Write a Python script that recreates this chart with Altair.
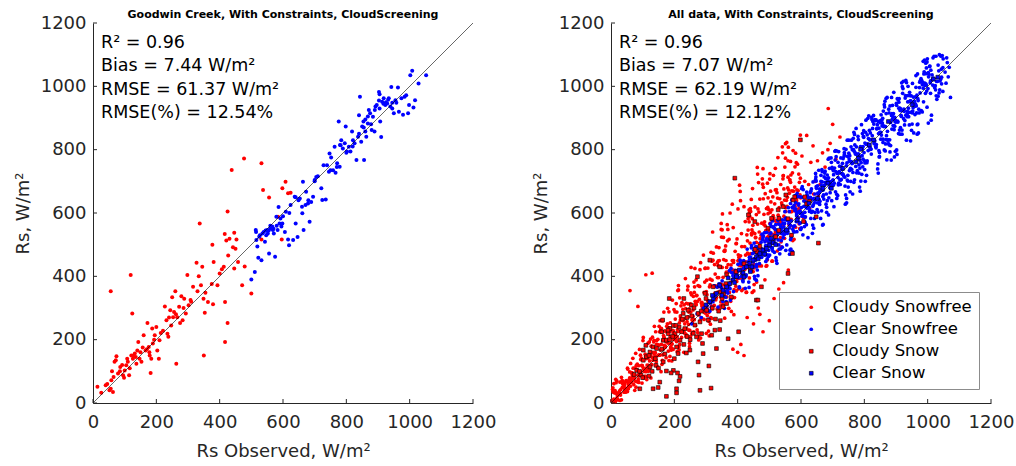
import altair as alt
import pandas as pd

# ---------------------------------------------------------------- data
# Goodwin Creek: (observed, modelled) Rs in W/m^2
GC_CLOUDY = [(14,51),(26,32),(40,56),(56,45),(58,72),(63,35),(65,82),(56,353),(68,130),(72,135),(74,148),(79,93),
    (86,114),(95,88),(100,103),(105,119),(110,130),(114,88),(119,404),(121,150),(124,283),(126,140),(132,156),(137,124),
    (140,166),(143,193),(147,140),(153,130),(160,214),(166,166),(172,253),(176,177),(179,150),(182,95),(184,140),(187,235),
    (189,188),(195,214),(200,240),(203,166),(208,140),(210,198),(214,221),(221,228),(227,305),(232,261),(235,219),(238,209),
    (244,293),(247,245),(250,334),(253,271),(256,287),(260,353),(263,124),(266,271),(272,304),(275,253),(279,337),(283,261),
    (288,329),(293,283),(298,404),(302,309),(308,325),(316,367),(327,443),(330,353),(334,400),(337,567),(341,372),(345,430),
    (349,329),(353,285),(355,348),(350,150),(363,319),(375,376),(377,500),(379,312),(381,445),(393,372),(400,409),(407,422),
    (413,430),(416,534),(417,319),(417,193),(421,513),(425,605),(425,253),(427,466),(431,519),(438,736),(442,492),(446,538),
    (446,425),(450,487),(453,516),(458,445),(471,372),(477,772),(479,431),(500,346),(532,757),(532,516),(537,673),(556,649),
    (584,588),(598,678),(608,699),(616,662),(624,664),(596,516),(45,60),(52,40),(60,100),(85,100),(92,120),(98,80),
    (108,140),(116,110),(128,150),(135,145),(150,160),(157,175),(170,170),(178,160),(193,200),(240,270),(262,280),(286,300),
    (310,320)]

GC_CLEAR = [(500,390),(511,414),(514,546),(516,515),(519,494),(522,459),(527,530),(532,451),(535,535),(539,540),
    (543,509),(547,530),(550,546),(552,535),(556,472),(560,551),(566,557),(568,546),(571,535),(575,462),(579,588),(583,546),
    (586,619),(589,567),(592,583),(595,557),(598,567),(606,540),(609,604),(616,516),(619,498),(624,625),(632,515),(637,651),
    (640,567),(646,524),(649,640),(653,646),(661,599),(663,699),(665,546),(671,625),(673,667),(679,630),(684,572),(689,635),
    (695,651),(700,704),(705,714),(710,716),(721,678),(724,641),(728,751),(735,643),(739,751),(745,730),(747,788),(752,775),
    (758,735),(763,809),(766,727),(771,757),(776,889),(779,746),(782,814),(784,830),(789,804),(795,820),(798,873),(802,794),
    (808,809),(813,794),(818,857),(821,830),(826,820),(832,767),(837,841),(840,909),(843,967),(847,825),(850,873),(854,889),
    (856,767),(860,857),(863,841),(868,883),(871,925),(875,915),(880,862),(884,904),(889,857),(892,936),(896,941),(903,982),
    (905,930),(907,889),(910,840),(913,951),(918,962),(923,941),(929,946),(934,962),(939,936),(942,998),(945,930),(950,915),
    (955,956),(963,996),(966,920),(974,962),(979,910),(984,967),(989,972),(995,915),(998,941),(1002,1035),(1008,1049),
    (1012,933),(1017,956),(1028,1009),(1052,1035),(903,955),(917,945),(925,950),(932,958),(945,948),(958,948),(905,975),
    (890,925),(868,905),(878,880),(855,870),(860,895),(840,850),(820,810),(800,790),(780,815),(770,745),(750,735),(700,700),
    (680,640),(660,620),(640,650),(620,600),(600,590),(580,560),(570,550),(545,545),(525,525),(515,540),(555,545),(560,560)]

# All stations
ALL_CLOUDY_SNOWFREE = [
    (3,8),(41,34),(17,31),(29,30),(8,34),(46,34),(22,31),(35,71),(12,9),(49,68),(28,8),(26,33),(38,69),(14,5),(44,46),
    (6,48),(31,43),(19,15),(48,71),(10,4),(24,30),(37,66),(5,4),(43,60),(16,64),(33,10),(27,38),(9,12),(40,61),(21,10),
    (5,43),(47,47),(13,39),(30,25),(36,50),(18,70),
    (53,107),(91,87),(67,95),(79,50),(58,69),(96,142),(72,58),(85,88),(62,125),(99,117),(51,45),(76,111),(88,65),(64,73),
    (94,137),(56,54),(81,106),(69,141),(98,63),(60,76),(74,79),(87,118),(52,36),(93,151),(66,66),(83,123),(77,69),(59,79),
    (90,169),(71,78),(55,45),(97,119),(63,64),(80,119),(86,68),(68,82),
    (103,107),(141,225),(117,142),(129,121),(108,154),(146,115),(122,133),(135,193),(112,110),(149,182),(101,197),(126,79),
    (138,159),(114,120),(144,185),(106,84),(131,208),(119,119),(148,201),(110,99),(124,151),(137,242),(102,111),(143,130),
    (116,145),(133,135),(127,179),(109,84),(140,159),(121,193),(105,100),(147,184),(113,74),(130,144),(136,198),(118,100),
    (153,225),(191,188),(167,208),(179,299),(158,99),(196,222),(172,180),(185,237),(162,135),(199,295),(151,151),(176,242),
    (188,174),(164,198),(194,325),(156,167),(181,164),(169,205),(198,200),(160,225),(174,143),(187,210),(152,242),(193,186),
    (166,213),(183,134),(177,195),(159,236),(190,167),(171,176),(155,260),(197,228),(163,152),(180,238),(186,147),(168,182),
    (203,265),(241,209),(217,332),(229,229),(208,287),(246,230),(222,263),(235,393),(212,226),(249,229),(201,244),(226,229),
    (238,315),(214,177),(244,272),(206,314),(231,223),(219,275),(248,189),(210,232),(224,317),(237,210),(202,208),(243,369),
    (216,253),(233,220),(227,296),(209,162),(240,257),(221,307),(205,201),(247,297),(213,357),(230,160),(236,268),(218,227),
    (253,428),(291,306),(267,245),(279,327),(258,261),(296,382),(272,231),(285,316),(262,382),(299,290),(251,313),(276,211),
    (288,312),(264,367),(294,264),(256,263),(281,421),(269,310),(298,284),(260,337),(274,222),(287,306),(252,348),(293,289),
    (266,321),(283,443),(277,199),(259,294),(290,300),(271,340),(255,219),(297,425),(263,263),(280,368),(286,268),(268,313),
    (303,342),(341,491),(317,306),(329,407),(308,227),(346,376),(322,451),(335,297),(312,321),(349,524),(301,352),(326,308),
    (338,434),(314,249),(344,368),(306,426),(331,326),(319,388),(348,548),(310,212),(324,368),(337,350),(302,388),(343,298),
    (316,476),(333,333),(327,437),(309,286),(340,396),(321,540),(305,324),(347,319),(313,373),(330,334),(336,444),(318,267),
    (353,311),(391,401),(367,563),(379,436),(358,338),(396,504),(372,299),(385,412),(362,496),(399,393),(351,428),(376,600),
    (388,279),(364,413),(394,408),(356,453),(381,331),(369,548),(398,398),(360,483),(374,349),(387,450),(352,597),(393,414),
    (366,335),(383,450),(377,381),(359,479),(390,333),(371,414),(355,523),(397,384),(363,450),(380,289),(386,420),(368,512),
    (403,451),(441,605),(417,431),(429,531),(408,668),(446,349),(422,494),(435,470),(412,535),(449,415),(401,613),(426,446),
    (438,590),(414,407),(444,531),(406,688),(431,473),(419,406),(448,540),(410,434),(424,573),(437,395),(402,468),(443,643),
    (416,422),(433,546),(427,349),(409,465),(440,614),(421,396),(405,435),(447,677),(413,494),(430,429),(436,572),(418,360),
    (453,488),(491,614),(467,433),(479,691),(458,478),(496,648),(472,465),(485,572),(462,744),(499,541),(451,438),(476,568),
    (488,512),(464,613),(494,452),(456,522),(481,681),(469,475),(498,611),(460,382),(474,530),(487,661),(452,427),(493,523),
    (466,696),(483,564),(477,476),(459,595),(490,432),(471,519),(455,619),(497,511),(463,565),(480,740),(486,389),(468,540),
    (503,602),(541,809),(517,577),(529,540),(508,610),(546,590),(522,674),(535,522),(512,592),(549,745),(501,529),(526,647),
    (538,493),(514,585),(544,718),(506,507),(531,580),(519,741),(548,641),(510,532),(524,664),(537,509),(502,567),(543,708),
    (516,551),(533,645),(527,775),(509,448),(540,626),(521,574),(505,635),(547,540),(513,719),(530,570),(536,690),(518,535),
    (553,540),(591,671),(567,763),(579,607),(558,679),(596,551),(572,643),(585,759),(562,563),(599,648),(551,773),(576,669),
    (588,610),(564,704),(594,566),(556,621),(581,746),(569,604),(598,710),(560,808),(574,513),(587,673),(552,605),(593,723),
    (566,559),(583,789),(577,617),(559,713),(590,607),(571,670),(555,823),(597,657),(563,574),(580,682),(586,630),(568,720),
    (603,780),(612,700),(618,845),(624,690),(631,760),(638,812),(645,700),(652,765),(660,690),(668,790),(676,745),(686,930),
    (692,820),(700,880),(640,660),(615,640),(655,655),(685,800),(710,770),(723,840),(608,585),(627,615),
    (60,355),(110,405),(130,410),(85,305),(15,75),(480,225),(500,260),(450,250),(430,270),(410,185),(400,160),(420,150),
    (465,300),(470,280),(385,170),(530,360),(545,380),(560,420),(515,330),
    (25,31),(7,36),(44,43),(15,32),(33,81),(4,6),(39,50),(20,23),(11,32),(48,37),(28,66),(6,6),(36,62),(17,12),(42,56),
    (9,61),
    (75,40),(57,73),(94,99),(65,96),(83,67),(52,110),(89,89),(70,110),(61,53),(98,118),(78,157),(54,61),(86,76),(67,89),
    (92,93),(59,98),
    (125,202),(107,107),(144,197),(115,104),(133,160),(102,207),(139,148),(120,107),(111,140),(148,150),(128,180),(104,79),
    (136,155),(117,189),(142,137),(109,146),
    (175,193),(157,234),(194,171),(165,170),(183,288),(152,183),(189,178),(170,228),(161,122),(198,212),(178,250),(154,151),
    (186,227),(167,287),(192,133),(159,185),(181,189),(173,225),(196,169),(163,259),(151,151),(187,253),(169,155),(195,229),
    (225,262),(207,194),(244,313),(215,168),(233,250),(202,288),(239,235),(220,270),(211,355),(248,178),(228,260),(204,213),
    (236,298),(217,185),(242,357),(209,209),(231,310),(223,207),(246,287),(213,371),(201,215),(237,217),(219,262),(245,248),
    (275,371),(257,253),(294,349),(265,425),(283,205),(252,287),(289,299),(270,339),(261,225),(298,426),(278,278),(254,342),
    (286,268),(267,312),(292,467),(259,274),(281,259),(273,321),(296,299),(263,349),(251,210),(287,318),(269,389),(295,286),
    (325,369),(307,320),(344,430),(315,270),(333,493),(302,302),(339,449),(320,297),(311,367),(348,567),(328,347),(304,276),
    (336,396),(317,321),(342,450),(309,258),(331,370),(323,473),(346,335),(313,391),(301,220),(337,367),(319,448),(345,307),
    (375,375),(357,480),(394,369),(365,428),(383,628),(352,373),(389,358),(370,437),(361,365),(398,518),(378,321),(354,397),
    (386,554),(367,354),(392,479),(359,268),(381,415),(373,517),(396,354),(363,373),(351,547),(387,444),(369,349),(395,503),
    (425,467),(407,394),(444,536),(415,439),(433,582),(402,360),(439,505),(420,620),(411,417),(448,561),(428,350),(404,460),
    (436,610),(417,392),(442,472),(409,639),(431,512),(423,422),(446,582),(413,355),(401,449),(437,601),(419,433),(445,547),
    (475,433),(457,523),(494,694),(465,471),(483,596),(452,374),(489,545),(470,644),(461,436),(498,528),(478,708),(454,535),
    (486,485),(467,603),(492,434),(459,507),(481,645),(473,487),(496,598),(463,723),(451,354),(487,559),(469,504),(495,618),
    (525,480),(507,578),(544,718),(515,516),(533,582),(502,724),(539,632),(520,542),(511,651),(548,520),(528,593),(504,669),
    (536,571),(517,629),(542,790),(509,448),(531,617),(523,576),(546,676),(513,506),(501,707),(537,577),(519,673),(545,562),
    (575,797),(557,650),(594,616),(565,705),(583,555),(552,617),(589,754),(570,605),(561,673),(598,846),(578,517),(554,640),
    (586,639),(567,697),(592,585),(559,765),(581,621),(573,727),(596,613),(563,662),(551,819),(587,647),(569,580),(595,697)]

ALL_CLEAR_SNOWFREE = [
    (255,250),(272,282),(285,270),(292,300),
    (303,307),(341,376),(317,302),(329,339),(308,264),(346,368),(322,320),(335,366),(312,290),(349,363),(301,291),(326,370),
    (338,303),(314,316),(344,370),(306,293),
    (353,321),(391,411),(367,356),(379,425),(358,299),(396,402),(372,366),(385,402),(362,334),(399,403),(351,386),(376,361),
    (388,398),(364,320),(394,416),(356,354),(381,412),(369,347),(398,412),(360,350),(374,418),(387,352),(352,354),(393,419),
    (366,353),(383,390),(377,325),
    (403,396),(441,461),(417,383),(429,434),(408,451),(446,427),(422,433),(435,382),(412,439),(449,446),(401,438),(426,400),
    (438,454),(414,403),(444,497),(406,364),(431,433),(419,450),(448,432),(410,418),(424,362),(437,460),(402,397),(443,490),
    (416,387),(433,446),(427,405),(409,443),(440,431),(421,425),(405,367),(447,472),(413,400),(430,486),(436,365),(418,425),
    (453,400),(491,518),(467,464),(479,516),(458,432),(496,512),(472,461),(485,538),(462,420),(499,501),(451,482),(476,460),
    (488,496),(464,402),(494,517),(456,451),(481,528),(469,440),(498,511),(460,438),(474,508),(487,478),(452,456),(493,455),
    (466,491),(483,470),(477,533),(459,388),(490,497),(471,464),(455,475),(497,463),(463,468),(480,523),(486,467),(468,479),
    (503,565),(541,492),(517,519),(529,565),(508,490),(546,556),(522,450),(535,562),(512,506),(549,604),(501,467),(526,541),
    (538,513),(514,554),(544,533),(506,510),(531,486),(519,548),(548,533),(510,575),(524,441),(537,545),(502,494),(543,567),
    (516,476),(533,539),(527,577),(509,487),(540,553),(521,459),(505,537),(547,543),(513,556),(530,499),(536,555),(518,505),
    (553,583),(591,585),(567,630),(579,540),(558,576),(596,567),(572,618),(585,573),(562,567),(599,548),(551,584),(576,558),
    (588,662),(564,470),(594,603),(556,546),(581,608),(569,523),(598,604),(560,617),(574,549),(587,602),(552,482),(593,629),
    (566,562),(583,633),(577,542),(559,581),(590,575),(571,641),(555,499),(597,599),(563,604),(580,559),(586,597),(568,486),
    (603,590),(641,646),(617,563),(629,664),(608,589),(646,725),(622,522),(635,644),(612,602),(649,678),(601,553),(626,633),
    (638,698),(614,588),(644,660),(606,531),(631,669),(619,615),(648,701),(610,573),(624,647),(637,621),(602,677),(643,583),
    (616,619),(633,676),(627,605),(609,621),(640,552),(621,653),(605,598),(647,714),(613,571),(630,649),(636,605),(618,666),
    (653,663),(691,680),(667,698),(679,628),(658,665),(696,760),(672,644),(685,702),(662,583),(699,740),(651,646),(676,732),
    (688,648),(664,688),(694,677),(656,735),(681,618),(669,672),(698,744),(660,637),(674,687),(687,594),(652,686),(693,686),
    (666,737),(683,639),(677,697),(659,627),(690,741),(671,657),(655,660),(697,639),(663,700),(680,660),(686,770),(668,562),
    (703,721),(741,657),(717,760),(729,724),(708,767),(746,704),(722,748),(735,717),(712,796),(749,682),(701,704),(726,774),
    (738,713),(714,727),(744,646),(706,742),(731,723),(719,794),(748,701),(710,731),(724,690),(737,791),(702,688),(743,749),
    (716,655),(733,772),(727,706),(709,797),(740,628),(721,731),(705,694),(747,779),(713,659),(730,738),(736,803),(718,689),
    (753,734),(791,879),(767,697),(779,782),(758,809),(796,770),(772,786),(785,682),(762,800),(799,791),(751,830),(776,727),
    (788,810),(764,728),(794,851),(756,741),(781,787),(769,705),(798,839),(760,738),(774,867),(787,669),(752,763),(793,781),
    (766,800),(783,726),(777,785),(759,830),(790,759),(771,790),(755,667),(797,842),(763,758),(780,842),(786,742),(768,795),
    (803,700),(841,879),(817,809),(829,908),(808,759),(846,868),(822,786),(835,892),(812,797),(849,855),(801,737),(826,867),
    (838,816),(814,907),(844,726),(806,817),(831,819),(819,853),(848,791),(810,818),(824,895),(837,806),(802,821),(843,755),
    (816,861),(833,828),(827,889),(809,765),(840,867),(821,802),(805,893),(847,777),(813,816),(830,881),(836,810),(818,832),
    (853,910),(891,876),(867,873),(879,815),(858,899),(896,874),(872,965),(885,767),(862,873),(899,887),(851,885),(876,819),
    (888,896),(864,935),(894,863),(856,875),(881,793),(869,914),(898,893),(860,922),(874,830),(887,914),(852,833),(893,981),
    (866,796),(883,886),(877,928),(859,833),(890,904),(871,768),(855,893),(897,889),(863,942),(880,831),(886,908),(868,832),
    (903,785),(941,952),(917,905),(929,963),(908,851),(946,954),(922,993),(935,904),(912,931),(949,861),(901,946),(926,921),
    (938,1000),(914,870),(944,971),(906,887),(931,1019),(919,849),(948,951),(910,961),(924,898),(937,951),(902,799),(943,981),
    (916,908),(933,1012),(927,878),(909,931),(940,904),(921,978),(905,890),(947,953),(913,849),(930,971),(936,914),(918,1011),
    (953,922),(991,1010),(967,879),(979,1024),(958,953),(996,1058),(972,928),(985,1012),(962,943),(999,1087),(951,881),
    (976,979),(988,1039),(964,938),(994,1008),(956,853),(981,1019),(969,961),(998,1077),(960,911),(974,996),(987,951),
    (952,1009),(993,978),(966,972),(983,919),(977,1018),(959,937),(990,1083),(971,853),(955,966),(997,985),(963,997),
    (980,923),(986,994),(968,1039),
    (1003,1030),(1041,1022),(1017,1090),(1029,959),(1008,1011),(1046,1097),(1022,996),(1035,1049),(1012,909),(1049,1087),
    (1001,993),(1026,1095),(1038,989),(1014,1036),(1044,1008),(1006,1063),(1031,1016),(1019,1025),(1048,984),(1010,1051),
    (1024,1002),(1037,1100),(1002,884),(1043,1054),(1016,1004),(1033,1067),(1027,970),(1009,1017),
    (1055,1045),(1058,1010),(1062,1075),(1065,1030),(1072,965),(1068,1060),(1060,1090),
    (475,472),(457,494),(494,468),(465,481),(483,472),(452,505),(489,447),(470,472),(461,492),(498,482),(478,486),(454,392),
    (486,509),(467,462),(492,539),(459,430),
    (525,531),(507,557),(544,522),(515,528),(533,471),(502,534),(539,535),(520,563),(511,480),(548,567),(528,515),(504,566),
    (536,487),(517,519),(542,578),(509,491),
    (575,616),(557,536),(594,605),(565,483),(583,613),(552,546),(589,652),(570,531),(561,579),(598,569),(578,624),(554,542),
    (586,591),(567,516),(592,625),(559,541),(581,655),(573,479),(596,605),(563,553),(551,578),(587,541),(569,575),(595,652),
    (625,618),(607,674),(644,602),(615,634),(633,602),(602,650),(639,626),(620,625),(611,557),(648,683),(628,609),(604,683),
    (636,536),(617,626),(642,632),(609,638),(631,583),(623,630),(646,706),(613,587),(601,617),(637,562),(619,657),(645,641),
    (675,726),(657,643),(694,699),(665,607),(683,720),(652,632),(689,773),(670,564),(661,671),(698,687),(678,709),(654,603),
    (686,693),(667,731),(692,664),(659,676),(681,602),(673,714),(696,691),(663,719),(651,611),(687,711),(669,652),(695,774),
    (725,704),(707,795),(744,632),(715,725),(733,722),(702,734),(739,685),(720,728),(711,778),(748,719),(728,746),(704,620),
    (736,779),(717,712),(742,801),(709,667),(731,757),(723,705),(746,830),(713,646),(701,704),(737,785),(719,694),(745,758),
    (775,809),(757,700),(794,802),(765,836),(783,752),(752,771),(789,701),(770,815),(761,756),(798,860),(778,734),(754,781),
    (786,767),(767,855),(792,722),(759,762),(781,832),(773,747),(796,810),(763,660),(751,789),(787,779),(769,848),(795,746),
    (825,844),(807,719),(844,889),(815,810),(833,895),(802,758),(839,866),(820,801),(811,899),(848,778),(828,831),(804,855),
    (836,810),(817,831),(842,739),(809,847),(831,823),(823,902),(846,797),(813,835),(801,765),(837,894),(819,804),(845,851),
    (875,831),(857,884),(894,875),(865,953),(883,813),(852,855),(889,940),(870,844),(861,875),(898,795),(878,916),(854,846),
    (886,965),(867,818),(892,914),(859,823),(881,938),(873,858),(896,902),(863,799),(851,892),(887,865),(869,962),(895,777),
    (925,928),(907,958),(944,918),(915,929),(933,830),(902,940),(939,931),(920,999),(911,862),(948,970),(928,892),(904,961),
    (936,921),(917,923),(942,878),(909,950),(931,909),(923,1016),(946,828),(913,924),(901,889),(937,971),(919,862),(945,953),
    (975,1013),(957,949),(994,1073),(965,916),(983,1005),(952,916),(989,1046),(970,955),(961,967),(998,934),(978,1019),
    (954,932),(986,1079),(967,849),(992,1003),(959,947),(981,1015),(973,916),(996,1004),(963,1034),(951,920),(987,1006),
    (969,881),(995,1040),
    (1025,989),(1007,1064),(1044,1029),(1015,1021),(1033,969),(1002,1043),(1039,1017),(1020,1095),(1011,893),(1048,1059),
    (1028,1016),(1004,1038),(1036,979),(1017,1025),(1042,1095),(1009,978)]

ALL_CLOUDY_SNOW = [(175,21),(133,45),(149,49),(91,45),(207,45),(207,32),(281,40),(316,47),(309,117),(275,130),(278,88),
    (218,84),(197,103),(175,101),(165,130),(154,66),(142,119),(123,114),(112,146),(102,135),(95,88),(81,103),(73,90),
    (110,182),(102,167),(123,161),(133,177),(144,172),(163,262),(165,198),(175,198),(181,219),(186,235),(184,330),(197,245),
    (202,219),(207,177),(212,156),(218,198),(223,225),(228,283),(230,330),(233,235),(238,158),(249,167),(244,293),(254,309),
    (265,246),(270,209),(273,399),(275,283),(281,256),(286,219),(289,188),(291,156),(297,346),(302,293),(307,262),(312,451),
    (318,214),(323,367),(328,230),(333,172),(343,430),(346,351),(351,330),(354,304),(365,314),(370,203),(363,377),(403,225),
    (343,232),(459,325),(464,325),(475,367),(434,594),(454,573),(461,478),(496,552),(507,583),(528,610),(530,583),(544,620),
    (552,657),(559,582),(570,530),(575,641),(559,409),(573,472),(580,651),(612,651),(618,629),(627,637),(608,573),(648,588),
    (655,505),(391,710),(598,831),(120,150),(140,140),(160,170),(170,155),(185,200),(195,210),(215,240),(225,265),(240,270),
    (255,275),(262,300),(285,290),(300,330),(200,140),(190,95),(210,95),(215,70),(230,185),(250,200),(260,220),(160,225),
    (150,110),(130,100),(100,80),(90,100),(120,85),(320,300),(340,290),(355,345),(380,335),(395,415),(420,440),(440,420),
    (365,405),(330,265),(345,260),(240,210),(180,230),(205,245),(455,485),(470,495),(520,525),(530,545)]

ALL_CLEAR_SNOW = [(1018,1023),(1032,1029),(951,942),(876,889),(829,831),(816,815),(788,801),(781,773),(774,762),(732,741),
    (685,694),(669,678),(696,678),(652,646),(625,631),(588,578),(554,546),(417,411),(428,430),(438,441),(449,451),(459,462),
    (470,472),(480,483),(491,488),(501,499),(512,506),(396,399),(386,388),(375,377),(365,367),(354,356),(343,372),(333,346),
    (323,330),(312,320),(405,420),(420,398),(445,430),(465,455),(485,470),(350,340),(370,395),(390,380),(300,310),(320,340),
    (440,415),(505,520),(520,500)]

AXIS_TICKS = [0, 200, 400, 600, 800, 1000, 1200]
GROUPS = ["Cloudy Snowfree", "Clear Snowfree", "Cloudy Snow", "Clear Snow"]
GROUP_FILL = ["#ff0000", "#0000ff", "#ff0000", "#0000ff"]
GROUP_SHAPE = ["circle", "circle", "square", "square"]
GROUP_SIZE = [14, 14, 30, 30]
GROUP_STROKE = ["transparent", "transparent", "#000000", "#000000"]

GC_TITLE = "Goodwin Creek, With Constraints, CloudScreening"
ALL_TITLE = "All data, With Constraints, CloudScreening"
GC_STATS = ["R² = 0.96", "Bias = 7.44 W/m²", "RMSE = 61.37 W/m²", "RMSE(%) = 12.54%"]
ALL_STATS = ["R² = 0.96", "Bias = 7.07 W/m²", "RMSE = 62.19 W/m²", "RMSE(%) = 12.12%"]

# ---------------------------------------------------------------- style
FONT = "DejaVu Sans"
INK = "#262626"
W = H = 380


def frame(pairs, group):
    return pd.DataFrame({"obs": [p[0] for p in pairs], "est": [p[1] for p in pairs], "group": group})


def x_enc(field="obs"):
    return alt.X(f"{field}:Q", scale=alt.Scale(domain=[0, 1200], nice=False, zero=False),
                 axis=alt.Axis(values=AXIS_TICKS, format="d", title="Rs Observed, W/m²"))


def y_enc(field="est"):
    return alt.Y(f"{field}:Q", scale=alt.Scale(domain=[0, 1200], nice=False, zero=False),
                 axis=alt.Axis(values=AXIS_TICKS, format="d", title="Rs, W/m²"))


def decorations(title, stats):
    ticks = pd.DataFrame({"t": AXIS_TICKS})
    xt = alt.Chart(ticks).mark_rule(color=INK, strokeWidth=1).encode(
        x=x_enc("t"), y=alt.value(H), y2=alt.value(H - 4))
    yt = alt.Chart(ticks).mark_rule(color=INK, strokeWidth=1).encode(
        y=y_enc("t"), x=alt.value(0), x2=alt.value(4))
    one_to_one = alt.Chart(pd.DataFrame({"obs": [0, 1200], "est": [0, 1200]})).mark_line(
        color="#000000", strokeWidth=0.6).encode(x=x_enc(), y=y_enc())
    head = alt.Chart(pd.DataFrame({"s": [title]})).mark_text(
        font=FONT, fontSize=11, fontWeight="bold", color="#000000", align="center", baseline="middle"
    ).encode(text="s:N", x=alt.value(W / 2), y=alt.value(-8))
    box = alt.Chart(pd.DataFrame({"s": ["\n".join(stats)]})).mark_text(
        font=FONT, fontSize=17.5, color="#000000", align="left", baseline="top",
        lineBreak="\n", lineHeight=23.3
    ).encode(text="s:N", x=alt.value(8), y=alt.value(11))
    return xt, yt, one_to_one, head, box


# ---------------------------------------------------------------- left panel
gc = pd.concat([frame(GC_CLOUDY, "Cloudy"), frame(GC_CLEAR, "Clear")], ignore_index=True)
gc_dots = alt.Chart(gc).mark_circle(size=16, opacity=1).encode(
    x=x_enc(), y=y_enc(),
    color=alt.Color("group:N", scale=alt.Scale(domain=["Cloudy", "Clear"], range=["#ff0000", "#0000ff"]),
                    legend=None))
xt, yt, diag, head, box = decorations(GC_TITLE, GC_STATS)
left = alt.layer(gc_dots, diag, xt, yt, head, box).properties(width=W, height=H)

# ---------------------------------------------------------------- right panel
legend = alt.Legend(title=None, orient="none", legendX=168, legendY=269, fillColor="white",
                    strokeColor="#8c8c8c", padding=7, rowPadding=5, labelFont=FONT, labelFontSize=16.5,
                    labelColor="#000000", symbolOffset=17, labelOffset=13, symbolStrokeWidth=0.6)


def group_enc():
    return dict(
        color=alt.Color("group:N", scale=alt.Scale(domain=GROUPS, range=GROUP_FILL), legend=legend),
        shape=alt.Shape("group:N", scale=alt.Scale(domain=GROUPS, range=GROUP_SHAPE), legend=legend),
        size=alt.Size("group:N", scale=alt.Scale(domain=GROUPS, range=GROUP_SIZE), legend=legend),
        stroke=alt.Stroke("group:N", scale=alt.Scale(domain=GROUPS, range=GROUP_STROKE), legend=legend),
    )


dots = pd.concat([frame(ALL_CLOUDY_SNOWFREE, GROUPS[0]), frame(ALL_CLEAR_SNOWFREE, GROUPS[1])], ignore_index=True)
snow = pd.concat([frame(ALL_CLOUDY_SNOW, GROUPS[2]), frame(ALL_CLEAR_SNOW, GROUPS[3])], ignore_index=True)
all_dots = alt.Chart(dots).mark_point(filled=True, opacity=1, strokeWidth=0.6).encode(
    x=x_enc(), y=y_enc(), **group_enc())
all_snow = alt.Chart(snow).mark_point(filled=True, opacity=1, strokeWidth=0.6).encode(
    x=x_enc(), y=y_enc(), **group_enc())
xt2, yt2, diag2, head2, box2 = decorations(ALL_TITLE, ALL_STATS)
right = alt.layer(all_dots, diag2, all_snow, xt2, yt2, head2, box2).properties(width=W, height=H)

chart = alt.hconcat(left, right, spacing=36).resolve_scale(
    color="independent", shape="independent", size="independent", stroke="independent"
).resolve_legend(
    color="independent", shape="independent", size="independent", stroke="independent"
).properties(
    padding={"left": 14, "top": 9, "right": 0, "bottom": 0}
).configure_view(stroke=None).configure_axis(
    domainColor=INK, domainWidth=1, ticks=False, grid=False, labelFlush=False, labelOverlap=False,
    labelFont=FONT, labelFontSize=18, labelColor=INK,
    titleFont=FONT, titleFontSize=18, titleColor=INK, titleFontWeight="normal",
).configure_axisX(
    labelPadding=10, titlePadding=11
).configure_axisY(
    labelPadding=7, titlePadding=8
)

chart.save("out.html", embed_options={"renderer": "svg", "actions": False})
